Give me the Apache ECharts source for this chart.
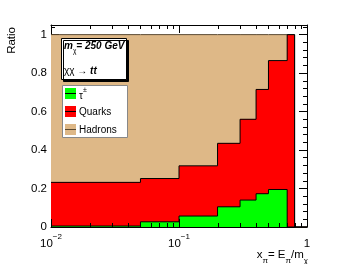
<!DOCTYPE html>
<html><head><meta charset="utf-8">
<script src="https://cdn.jsdelivr.net/npm/echarts@6/dist/echarts.min.js"></script>
<style>html,body{margin:0;padding:0;background:#fff}#c{width:341px;height:264px}</style>
</head><body><div id="c"></div>
<script>
// Bin edges along x (E_pi / m_chi) and fractions per bin
const binEdges   = [0.01, 0.05, 0.1, 0.2, 0.3, 0.4, 0.5, 0.7, 0.8, 1.0];
const tauFrac    = [0.005, 0.027, 0.057, 0.105, 0.14, 0.173, 0.195, 0, 0];
const quarkFrac  = [0.227, 0.225, 0.261, 0.33, 0.42, 0.542, 0.67, 1.0, 0];
const hadronFrac = [0.768, 0.748, 0.682, 0.565, 0.44, 0.285, 0.135, 0, 0];
const xMajorTicks = [0.01, 0.1, 1];
const xMinorTicks = [0.02, 0.03, 0.04, 0.05, 0.06, 0.07, 0.08, 0.09, 0.2, 0.3, 0.4, 0.5, 0.6, 0.7, 0.8, 0.9];
const xLabels = {0.01: ['10', '\u22122'], 0.1: ['10', '\u22121'], 1: ['1', '']};

const FONT = "'Liberation Sans', Arial, Helvetica, sans-serif";
const TAN = '#deb887', RED = '#ff0000', GREEN = '#00ff00', BROWN = '#5a4830';
const Y_MAX = 1.05;

// cumulative stacks
const lvl0 = tauFrac.map(() => 0);
const lvl1 = tauFrac.map((v, i) => v);
const lvl2 = tauFrac.map((v, i) => v + quarkFrac[i]);
const lvl3 = tauFrac.map((v, i) => v + quarkFrac[i] + hadronFrac[i]);

function rects(lo, hi) {
  return lo.map((v, i) => [binEdges[i], binEdges[i + 1], v, hi[i]]);
}
function steps(top) {
  const d = top.map((v, i) => [binEdges[i], v]);
  d.push([binEdges[binEdges.length - 1], top[top.length - 1]]);
  return d;
}
function renderBar(params, api) {
  const p0 = api.coord([api.value(0), api.value(2)]);
  const p1 = api.coord([api.value(1), api.value(3)]);
  const x0 = Math.round(p0[0]), x1 = Math.round(p1[0]);
  const yb = Math.round(p0[1]), yt = Math.round(p1[1]);
  if (yb - yt <= 0) return null;
  return {type: 'rect', shape: {x: x0, y: yt, width: x1 - x0, height: yb - yt},
          style: {fill: api.visual('color')}};
}
function barSeries(name, lo, hi, color) {
  return {type: 'custom', name, renderItem: renderBar, data: rects(lo, hi), itemStyle: {color},
          encode: {x: [0, 1], y: [2, 3]}, clip: true, silent: true, z: 1};
}
function lineSeries(top, color) {
  return {type: 'line', step: 'end', data: steps(top), symbol: 'none', silent: true, z: 3,
          lineStyle: {color, width: 1}, clip: true};
}

const axisLineStyle = {show: true, onZero: false, lineStyle: {color: '#000', width: 1}};
function xAx(pos, labels) {
  return {type: 'log', logBase: 10, min: 0.01, max: 1, position: pos,
    axisLine: axisLineStyle, axisTick: {show: false}, splitLine: {show: false},
    axisLabel: labels ? {show: true, customValues: xMajorTicks, margin: 6,
      formatter: v => { const l = xLabels[v] || xLabels[+v.toPrecision(3)]; return l[1] ? '{b|' + l[0] + '}{s|' + l[1] + '}' : '{b|' + l[0] + '}'; },
      rich: {b: {fontFamily: FONT, fontSize: 11.5, color: '#000', lineHeight: 17, verticalAlign: 'bottom'},
             s: {fontFamily: FONT, fontSize: 8, color: '#000', lineHeight: 9, verticalAlign: 'top'}}}
      : {show: false}};
}
function yAx(pos, labels) {
  return {type: 'value', min: 0, max: Y_MAX, interval: 0.2, position: pos,
    axisLine: axisLineStyle,
    axisTick: {show: true, inside: true, length: 8, lineStyle: {color: '#000', width: 1}},
    minorTick: {show: true, splitNumber: 5, length: 4, lineStyle: {color: '#000', width: 1}},
    splitLine: {show: false}, minorSplitLine: {show: false},
    axisLabel: labels ? {show: true, showMaxLabel: false, margin: 4, color: '#000', fontFamily: FONT, fontSize: 11.5,
      formatter: v => (Math.abs(v - Math.round(v / 0.2) * 0.2) < 1e-6 ? String(+v.toFixed(1)) : '')} : {show: false}};
}

const graphics = [
    {type: 'text', x: 12, y: 27, rotation: Math.PI / 2,
     style: {text: 'Ratio', fill: '#000', font: '11.5px ' + FONT, align: 'right', verticalAlign: 'middle'}},
    {type: 'text', x: 308, y: 257,
     style: {text: '{n|x}{u|\u03c0}{n|= E}{u|\u03c0}{n|/m}{u|\u03c7}', align: 'right', verticalAlign: 'middle',
       rich: {n: {fontFamily: FONT, fontSize: 11.5, fill: '#000', lineHeight: 16, verticalAlign: 'top'},
              u: {fontFamily: FONT, fontSize: 8, fill: '#000', lineHeight: 9, verticalAlign: 'bottom'}}}},
    // info box
    {type: 'rect', shape: {x: 61.5, y: 38.5, width: 65, height: 41},
     style: {fill: '#fff', stroke: '#000', lineWidth: 1, shadowColor: '#000', shadowOffsetX: 2, shadowOffsetY: 2, shadowBlur: 0}, z: 10},
    {type: 'text', x: 64, y: 48, z: 11,
     style: {text: '{m|m}{u|\u03c7}{m|= 250 GeV}', verticalAlign: 'middle',
       rich: {m: {fontFamily: FONT, fontSize: 10, fontWeight: 'bold', fontStyle: 'italic', fill: '#000', lineHeight: 13, verticalAlign: 'top'},
              u: {fontFamily: FONT, fontSize: 6.5, fill: '#000', lineHeight: 8, verticalAlign: 'bottom'}}}},
    {type: 'text', x: 64, y: 71, z: 11,
     style: {text: '{n|\u03c7\u03c7 \u2192 }{b|tt}', verticalAlign: 'middle',
       rich: {n: {fontFamily: FONT, fontSize: 10, fill: '#000'},
              b: {fontFamily: FONT, fontSize: 10, fontWeight: 'bold', fontStyle: 'italic', fill: '#000'}}}},
    // legend box
    {type: 'rect', shape: {x: 62.5, y: 85.5, width: 65, height: 52},
     style: {fill: '#fff', stroke: '#888', lineWidth: 1}, z: 10},
    {type: 'rect', shape: {x: 65, y: 88, width: 11, height: 11}, style: {fill: GREEN}, z: 11},
    {type: 'line', shape: {x1: 65, y1: 93.5, x2: 76, y2: 93.5}, style: {stroke: '#000', lineWidth: 1}, z: 12},
    {type: 'rect', shape: {x: 65, y: 106, width: 11, height: 11}, style: {fill: RED}, z: 11},
    {type: 'line', shape: {x1: 65, y1: 111.5, x2: 76, y2: 111.5}, style: {stroke: '#000', lineWidth: 1}, z: 12},
    {type: 'rect', shape: {x: 65, y: 124, width: 11, height: 11}, style: {fill: TAN}, z: 11},
    {type: 'line', shape: {x1: 65, y1: 129.5, x2: 76, y2: 129.5}, style: {stroke: BROWN, lineWidth: 1}, z: 12},
    {type: 'text', x: 79, y: 94, z: 11,
     style: {text: '{n|\u03c4}{s|\u00b1}', verticalAlign: 'middle',
       rich: {n: {fontFamily: FONT, fontSize: 10, fill: '#000', lineHeight: 14, verticalAlign: 'bottom'},
              s: {fontFamily: FONT, fontSize: 7, fill: '#000', lineHeight: 8, verticalAlign: 'top'}}}},
    {type: 'text', x: 79, y: 112, z: 11,
     style: {text: 'Quarks', fill: '#000', font: '10px ' + FONT, verticalAlign: 'middle'}},
    {type: 'text', x: 79, y: 130, z: 11,
     style: {text: 'Hadrons', fill: '#000', font: '10px ' + FONT, verticalAlign: 'middle'}}
];

const chart = echarts.init(document.getElementById('c'), null, {renderer: 'canvas'});
chart.setOption({
  animation: false,
  backgroundColor: '#fff',
  grid: {left: 51, right: 34, top: 25, bottom: 37},
  xAxis: [xAx('bottom', true), xAx('top', false)],
  yAxis: [yAx('left', true), yAx('right', false)],
  series: [
    barSeries('Hadrons', lvl2, lvl3, TAN),
    barSeries('Quarks', lvl1, lvl2, RED),
    barSeries('tau', lvl0, lvl1, GREEN),
    lineSeries(lvl3, BROWN),
    lineSeries(lvl2, '#000'),
    lineSeries(lvl1, '#000')
  ],
  graphic: graphics
});

// x-axis ticks (log decades with 2..9 subdivisions), placed through the axis scale, on bottom and top
const tickEls = [];
function addTick(v, len) {
  const pb = chart.convertToPixel({xAxisIndex: 0, yAxisIndex: 0}, [v, 0]);
  const pt = chart.convertToPixel({xAxisIndex: 0, yAxisIndex: 0}, [v, Y_MAX]);
  const x = Math.round(pb[0]) + 0.5;
  tickEls.push({type: 'line', z: 20, shape: {x1: x, y1: pb[1], x2: x, y2: pb[1] - len}, style: {stroke: '#000', lineWidth: 1}});
  tickEls.push({type: 'line', z: 20, shape: {x1: x, y1: pt[1], x2: x, y2: pt[1] + len}, style: {stroke: '#000', lineWidth: 1}});
}
xMajorTicks.forEach(v => addTick(v, 8));
xMinorTicks.forEach(v => addTick(v, 4));
chart.setOption({graphic: graphics.concat(tickEls)});
</script></body></html>
